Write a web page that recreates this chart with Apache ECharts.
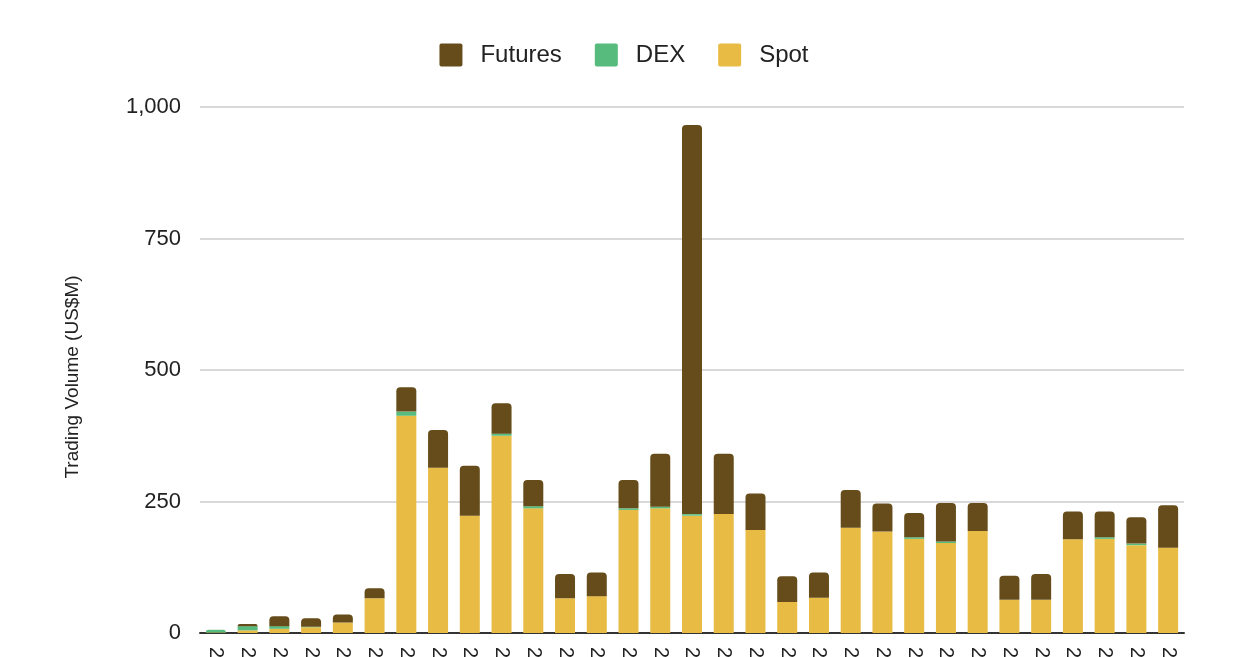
<!DOCTYPE html>
<html>
<head>
<meta charset="utf-8">
<title>Trading Volume</title>
<script src="https://cdn.jsdelivr.net/npm/echarts@6/dist/echarts.min.js"></script>
<style>
    html, body { margin: 0; padding: 0; background: #fff; }
    #chart { width: 1248px; height: 657px; }
</style>
</head>
<body>
<div id="chart"></div>
<script>
// months shown on the x axis (labels are cut off at the bottom of the picture)
var months = ['2020-01', '2020-02', '2020-03', '2020-04', '2020-05', '2020-06', '2020-07', '2020-08',
    '2020-09', '2020-10', '2020-11', '2020-12', '2021-01', '2021-02', '2021-03', '2021-04',
    '2021-05', '2021-06', '2021-07', '2021-08', '2021-09', '2021-10', '2021-11', '2021-12',
    '2022-01', '2022-02', '2022-03', '2022-04', '2022-05', '2022-06', '2022-07'];

// US$M
var spot    = [1, 5, 8, 11, 20, 66, 413, 314, 223, 375, 237, 66, 70, 234, 237, 223,
               226, 196, 59, 67, 200, 193, 179, 171, 194, 63, 63, 178, 179, 167, 162];
var dex     = [5, 8, 5, 1, 0, 0, 8, 0, 0, 4, 4, 0, 0, 3, 3, 3,
               0, 0, 0, 0, 0, 0, 3, 3, 0, 0, 0, 0, 3, 3, 0];
var futures = [0, 4, 19, 16, 15, 19, 46, 72, 95, 58, 50, 46, 45, 54, 101, 740,
               115, 69, 49, 48, 72, 53, 46, 73, 53, 46, 49, 53, 49, 50, 81];

var yTicks = [0, 250, 500, 750, 1000];

var colors = {
    futures: '#654c1a',
    dex: '#57bb7d',
    spot: '#e8bc44'
};

var font = 'Liberation Sans, Arial, sans-serif';
// square legend marker with only slightly rounded corners
var legendIcon = 'path://M2,0H21Q23,0,23,2V21Q23,23,21,23H2Q0,23,0,21V2Q0,0,2,0Z';

var chart = echarts.init(document.getElementById('chart'));

function barSeries(name, data, color, rounded) {
    return {
        name: name,
        type: 'bar',
        stack: 'total',
        barWidth: '63%',
        data: data,
        itemStyle: {
            color: color,
            borderRadius: rounded ? [4, 4, 0, 0] : 0
        }
    };
}

// the first bar has no futures, so its DEX part carries the rounded top
var dexData = dex.map(function (v, i) {
    if (futures[i] === 0) {
        return { value: v, itemStyle: { borderRadius: [3, 3, 0, 0] } };
    }
    return v;
});

var option = {
    animation: false,
    backgroundColor: '#fff',
    textStyle: { fontFamily: font },
    legend: {
        top: 38,
        left: 'center',
        itemWidth: 23,
        itemHeight: 23,
        itemGap: 33,
        icon: legendIcon,
        data: ['Futures', 'DEX', 'Spot'],
        textStyle: {
            fontSize: 24,
            color: '#222',
            fontFamily: font,
            padding: [0, 0, 0, 13]
        }
    },
    grid: {
        left: 200,
        right: 64,
        top: 107,
        bottom: 24,
        containLabel: false,
        outerBoundsMode: 'none'
    },
    xAxis: {
        type: 'category',
        data: months,
        axisLine: { lineStyle: { color: '#333', width: 2 } },
        axisTick: { show: false },
        axisLabel: {
            rotate: -90,
            margin: 14,
            fontSize: 20,
            color: '#222',
            fontFamily: font
        }
    },
    yAxis: {
        type: 'value',
        min: yTicks[0],
        max: yTicks[yTicks.length - 1],
        interval: yTicks[1] - yTicks[0],
        name: 'Trading Volume (US$M)',
        nameLocation: 'middle',
        nameGap: 118,
        nameTextStyle: {
            fontSize: 19,
            color: '#222',
            fontFamily: font,
            padding: [0, 14, 0, 0]
        },
        axisLine: { show: false },
        axisTick: { show: false },
        axisLabel: {
            margin: 19,
            fontSize: 22,
            color: '#222',
            fontFamily: font,
            formatter: function (v) {
                return v.toLocaleString('en-US');
            }
        },
        splitLine: { lineStyle: { color: '#cccccc', width: 1.5 } }
    },
    series: [
        barSeries('Spot', spot, colors.spot, false),
        barSeries('DEX', dexData, colors.dex, false),
        barSeries('Futures', futures, colors.futures, true)
    ]
};

chart.setOption(option);
</script>
</body>
</html>
